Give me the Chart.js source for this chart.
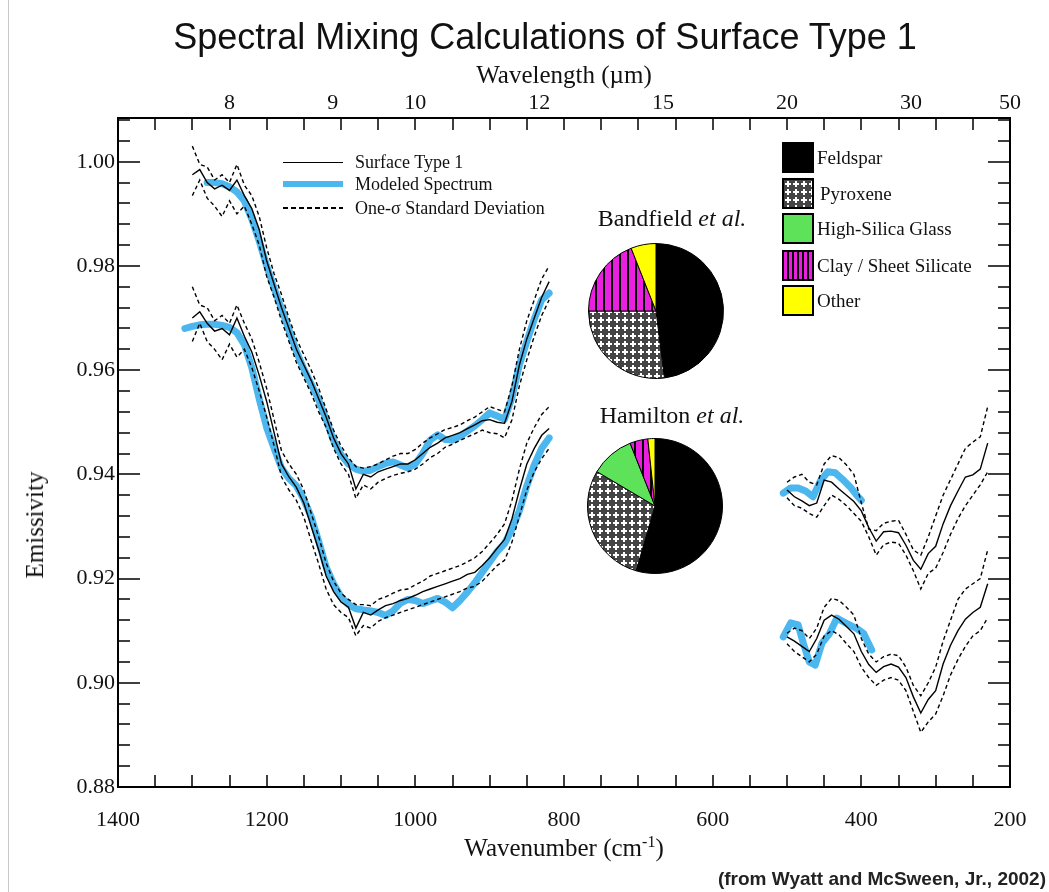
<!DOCTYPE html>
<html><head><meta charset="utf-8">
<script src="https://cdn.jsdelivr.net/npm/chart.js@4.4.1/dist/chart.umd.min.js"></script>
<style>
body{margin:0;background:#fff;}
#wrap{position:relative;width:1049px;height:892px;overflow:hidden;font-family:"Liberation Serif","Times New Roman",serif;color:#111;background:#fff;}
#main{position:absolute;left:0;top:0;}
.abs{position:absolute;white-space:nowrap;}
#title{left:0;width:1090px;top:17px;text-align:center;font-family:"Liberation Sans",Arial,sans-serif;font-size:36px;line-height:40px;color:#111;}
#xtitle{left:364px;width:400px;top:833px;text-align:center;font-size:25px;line-height:30px;}
#xtitle sup{font-size:16px;vertical-align:9px;line-height:0;}
#ytitle{left:35px;top:525px;transform:translate(-50%,-50%) rotate(-90deg);font-size:25px;line-height:30px;}
#foot{right:3px;top:868px;font-family:"Liberation Sans",Arial,sans-serif;font-weight:bold;font-size:19px;line-height:22px;color:#222;}
#edge{left:8px;top:0;width:1px;height:892px;background:#c8c8c8;}
.lg{font-size:18px;line-height:20px;left:355px;}
.pt{left:572px;width:200px;text-align:center;font-size:24px;line-height:28px;}
.sw{position:absolute;left:782px;width:28px;height:27px;border:2px solid #000;}
.sl{position:absolute;left:817px;font-size:19px;line-height:22px;white-space:nowrap;}
.pie{position:absolute;}
</style></head>
<body>
<div id="wrap">
<canvas id="main" width="1049" height="892"></canvas>
<div id="edge" class="abs"></div>
<div id="title" class="abs">Spectral Mixing Calculations of Surface Type 1</div>
<div id="xtitle" class="abs">Wavenumber (cm<sup>-1</sup>)</div>
<div id="ytitle" class="abs">Emissivity</div>
<div id="foot" class="abs">(from Wyatt and McSween, Jr., 2002)</div>

<div class="abs" style="left:283px;top:162px;width:60px;height:0;border-top:1.5px solid #000;"></div>
<div class="abs" style="left:283px;top:181px;width:60px;height:6px;background:#4cb6ee;"></div>
<div class="abs" style="left:283px;top:207px;width:60px;height:1.5px;background:repeating-linear-gradient(to right,#000 0 5px,transparent 5px 8px);"></div>
<div class="abs lg" style="top:152px;">Surface Type 1</div>
<div class="abs lg" style="top:174px;">Modeled Spectrum</div>
<div class="abs lg" style="top:198px;">One-σ Standard Deviation</div>

<div class="abs pt" style="top:204px;">Bandfield <i>et al.</i></div>
<div class="abs pt" style="top:401px;">Hamilton <i>et al.</i></div>
<canvas id="pieB" class="pie" width="150" height="150" style="left:581px;top:236px;"></canvas>
<canvas id="pieH" class="pie" width="150" height="150" style="left:580px;top:431px;"></canvas>
<div id="pieLegend"></div>
</div>
<script>
// ---------------- DATA ----------------
const xTickValues = [1400, 1200, 1000, 800, 600, 400, 200];
const yTickValues = [0.88, 0.90, 0.92, 0.94, 0.96, 0.98, 1.00];
const wavelengthTicks = [8, 9, 10, 12, 15, 20, 30, 50];

// Band 1 (1300-820 cm-1)
const wnBand1 = [1300,1290,1280,1270,1260,1250,1240,1230,1220,1210,1200,1190,1180,1170,1160,1150,1140,1130,1120,1110,1100,1090,1080,1070,1060,1050,1040,1030,1020,1010,1000,990,980,970,960,950,940,930,920,910,900,890,880,870,860,850,840,830,820];
const upperMeasured = [0.9975,0.9985,0.9960,0.9948,0.9955,0.9945,0.9965,0.9935,0.9910,0.9870,0.9810,0.9765,0.9720,0.9680,0.9640,0.9610,0.9580,0.9545,0.9510,0.9470,0.9440,0.9420,0.9372,0.9400,0.9395,0.9405,0.9410,0.9415,0.9420,0.9420,0.9428,0.9440,0.9452,0.9460,0.9470,0.9475,0.9480,0.9488,0.9495,0.9503,0.9505,0.9500,0.9498,0.9540,0.9610,0.9660,0.9700,0.9740,0.9770];
const upperSigmaHi = [1.0030,0.9995,0.9990,0.9965,0.9975,0.9960,0.9995,0.9955,0.9935,0.9895,0.9835,0.9785,0.9745,0.9700,0.9660,0.9630,0.9600,0.9565,0.9525,0.9485,0.9455,0.9432,0.9415,0.9412,0.9415,0.9420,0.9428,0.9435,0.9440,0.9440,0.9448,0.9460,0.9470,0.9478,0.9486,0.9490,0.9495,0.9503,0.9510,0.9520,0.9530,0.9525,0.9520,0.9570,0.9640,0.9695,0.9735,0.9775,0.9800];
const upperSigmaLo = [0.9935,0.9965,0.9930,0.9915,0.9895,0.9925,0.9900,0.9915,0.9880,0.9840,0.9780,0.9740,0.9695,0.9655,0.9615,0.9585,0.9555,0.9520,0.9490,0.9450,0.9420,0.9400,0.9354,0.9380,0.9372,0.9385,0.9392,0.9398,0.9402,0.9405,0.9410,0.9420,0.9432,0.9440,0.9452,0.9458,0.9465,0.9472,0.9478,0.9485,0.9480,0.9478,0.9470,0.9505,0.9570,0.9620,0.9665,0.9705,0.9735];
const lowerMeasured = [0.9700,0.9712,0.9690,0.9675,0.9680,0.9668,0.9700,0.9665,0.9635,0.9590,0.9540,0.9480,0.9420,0.9395,0.9375,0.9345,0.9300,0.9255,0.9205,0.9175,0.9155,0.9145,0.9105,0.9135,0.9130,0.9140,0.9148,0.9152,0.9158,0.9162,0.9168,0.9175,0.9180,0.9185,0.9190,0.9195,0.9200,0.9208,0.9212,0.9225,0.9240,0.9258,0.9275,0.9315,0.9370,0.9420,0.9450,0.9475,0.9488];
const lowerSigmaHi = [0.9760,0.9725,0.9720,0.9695,0.9705,0.9690,0.9725,0.9690,0.9660,0.9615,0.9565,0.9505,0.9445,0.9420,0.9400,0.9370,0.9325,0.9280,0.9230,0.9195,0.9172,0.9160,0.9150,0.9150,0.9148,0.9160,0.9165,0.9172,0.9178,0.9180,0.9188,0.9195,0.9205,0.9210,0.9215,0.9220,0.9225,0.9232,0.9240,0.9252,0.9268,0.9285,0.9305,0.9350,0.9410,0.9460,0.9490,0.9515,0.9530];
const lowerSigmaLo = [0.9655,0.9690,0.9655,0.9640,0.9620,0.9650,0.9625,0.9640,0.9605,0.9560,0.9510,0.9455,0.9395,0.9370,0.9350,0.9318,0.9272,0.9228,0.9180,0.9150,0.9135,0.9125,0.9090,0.9110,0.9105,0.9118,0.9125,0.9130,0.9135,0.9140,0.9145,0.9150,0.9155,0.9160,0.9165,0.9170,0.9175,0.9182,0.9185,0.9195,0.9210,0.9225,0.9235,0.9270,0.9320,0.9370,0.9405,0.9430,0.9450];
const wnModelUpper1 = [1280,1270,1260,1250,1240,1230,1220,1210,1200,1190,1180,1170,1160,1150,1140,1130,1120,1110,1100,1090,1080,1070,1060,1050,1040,1030,1020,1010,1000,990,980,970,960,950,940,930,920,910,900,890,880,870,860,850,840,830,820];
const upperModeled = [0.9960,0.9960,0.9958,0.9952,0.9942,0.9925,0.9890,0.9848,0.9800,0.9757,0.9718,0.9677,0.9636,0.9602,0.9573,0.9543,0.9505,0.9465,0.9438,0.9420,0.9410,0.9406,0.9408,0.9415,0.9421,0.9424,0.9418,0.9412,0.9420,0.9440,0.9466,0.9476,0.9467,0.9466,0.9473,0.9483,0.9493,0.9505,0.9518,0.9512,0.9506,0.9548,0.9610,0.9655,0.9698,0.9735,0.9748];
const wnModelLower1 = [1310,1300,1290,1280,1270,1260,1250,1240,1230,1220,1210,1200,1190,1180,1170,1160,1150,1140,1130,1120,1110,1100,1090,1080,1070,1060,1050,1040,1030,1020,1010,1000,990,980,970,960,950,940,930,920,910,900,890,880,870,860,850,840,830,820];
const lowerModeled = [0.9680,0.9684,0.9687,0.9688,0.9688,0.9686,0.9682,0.9672,0.9649,0.9605,0.9545,0.9490,0.9450,0.9412,0.9392,0.9378,0.9352,0.9318,0.9271,0.9222,0.9190,0.9165,0.9150,0.9142,0.9140,0.9138,0.9135,0.9129,0.9138,0.9153,0.9160,0.9158,0.9152,0.9157,0.9162,0.9155,0.9144,0.9158,0.9174,0.9192,0.9212,0.9232,0.9252,0.9267,0.9295,0.9330,0.9378,0.9418,0.9450,0.9470];

// Band 2 (500-230 cm-1)
const wnBand2 = [500,490,480,470,460,450,440,430,420,410,400,390,380,370,360,350,340,330,320,310,300,290,280,270,260,250,240,230];
const upperMeasured2 = [0.9370,0.9357,0.9349,0.9340,0.9345,0.9389,0.9385,0.9372,0.9360,0.9348,0.9330,0.9298,0.9272,0.9290,0.9291,0.9288,0.9264,0.9235,0.9218,0.9248,0.9262,0.9305,0.9340,0.9368,0.9395,0.9399,0.9410,0.9460];
const upperSigmaHi2 = [0.9385,0.9395,0.9400,0.9385,0.9380,0.9420,0.9436,0.9432,0.9418,0.9400,0.9345,0.9295,0.9292,0.9306,0.9310,0.9312,0.9285,0.9255,0.9245,0.9280,0.9320,0.9360,0.9390,0.9420,0.9450,0.9462,0.9472,0.9530];
const upperSigmaLo2 = [0.9355,0.9340,0.9335,0.9325,0.9318,0.9340,0.9360,0.9352,0.9340,0.9325,0.9310,0.9280,0.9245,0.9265,0.9270,0.9268,0.9245,0.9215,0.9180,0.9210,0.9220,0.9250,0.9285,0.9315,0.9340,0.9360,0.9380,0.9405];
const lowerMeasured2 = [0.9088,0.9080,0.9070,0.9060,0.9085,0.9120,0.9130,0.9122,0.9108,0.9094,0.9060,0.9035,0.9020,0.9031,0.9036,0.9030,0.9010,0.8973,0.8942,0.8968,0.8985,0.9036,0.9072,0.9100,0.9122,0.9135,0.9145,0.9190];
const lowerSigmaHi2 = [0.9095,0.9105,0.9100,0.9085,0.9105,0.9145,0.9162,0.9158,0.9145,0.9130,0.9085,0.9055,0.9040,0.9050,0.9055,0.9052,0.9030,0.8995,0.8975,0.9000,0.9030,0.9080,0.9120,0.9160,0.9180,0.9190,0.9200,0.9255];
const lowerSigmaLo2 = [0.9075,0.9060,0.9050,0.9040,0.9055,0.9090,0.9100,0.9092,0.9075,0.9060,0.9030,0.9010,0.8995,0.9005,0.9010,0.9005,0.8985,0.8945,0.8905,0.8925,0.8940,0.8975,0.9015,0.9045,0.9070,0.9090,0.9100,0.9125];
const wnModelUpper2 = [505,495,485,475,465,455,445,435,425,415,405,400];
const upperModeled2 = [0.9364,0.9374,0.9374,0.9368,0.9357,0.9388,0.9405,0.9403,0.9390,0.9376,0.9358,0.9350];
const wnModelLower2 = [505,495,485,478,470,462,453,443,433,420,406,397,386];
const lowerModeled2 = [0.9088,0.9115,0.9111,0.9076,0.9040,0.9034,0.9076,0.9094,0.9124,0.9114,0.9104,0.9095,0.9063];

// Pie charts (percent)
const mineralNames = ['Feldspar', 'Pyroxene', 'High-Silica Glass', 'Clay / Sheet Silicate', 'Other'];
const bandfieldPct = [48, 27, 0, 19, 6];
const hamiltonPct = [54.5, 29, 10.5, 4.3, 1.7];

// ---------------- DRAWING ----------------
const SERIF = '"Liberation Serif","Times New Roman",serif';
const BLUE = '#4cb6ee';
const GREEN = '#5ee25a';
const MAGENTA = '#ec1fe0';
const YELLOW = '#ffff00';

function xy(xs, ys) { return xs.map((x, i) => ({x: x, y: ys[i]})); }
function measured(xs, ys) { return {data: xy(xs, ys), showLine: true, pointRadius: 0, borderColor: '#000', borderWidth: 1.4, order: 1}; }
function sigma(xs, ys) { return {data: xy(xs, ys), showLine: true, pointRadius: 0, borderColor: '#000', borderWidth: 1.4, borderDash: [4, 3], order: 2}; }
function modeled(xs, ys) { return {data: xy(xs, ys), showLine: true, pointRadius: 0, borderColor: BLUE, borderWidth: 7, borderCapStyle: 'round', borderJoinStyle: 'round', order: 3}; }

const datasets = [
  modeled(wnModelUpper1, upperModeled), modeled(wnModelLower1, lowerModeled),
  modeled(wnModelUpper2, upperModeled2), modeled(wnModelLower2, lowerModeled2),
  sigma(wnBand1, upperSigmaHi), sigma(wnBand1, upperSigmaLo),
  sigma(wnBand1, lowerSigmaHi), sigma(wnBand1, lowerSigmaLo),
  sigma(wnBand2, upperSigmaHi2), sigma(wnBand2, upperSigmaLo2),
  sigma(wnBand2, lowerSigmaHi2), sigma(wnBand2, lowerSigmaLo2),
  measured(wnBand1, upperMeasured), measured(wnBand1, lowerMeasured),
  measured(wnBand2, upperMeasured2), measured(wnBand2, lowerMeasured2)
];

const framePlugin = {
  id: 'frame',
  afterDatasetsDraw(chart) {
    const {ctx, chartArea: a} = chart;
    const xs = chart.scales.x, ys = chart.scales.y;
    ctx.save();
    ctx.strokeStyle = '#000';
    ctx.lineWidth = 1.5;
    ctx.beginPath();
    for (let v = xs.min; v <= xs.max + 0.01; v += 50) {
      const p = Math.round(xs.getPixelForValue(v));
      ctx.moveTo(p, a.bottom); ctx.lineTo(p, a.bottom - 12);
      ctx.moveTo(p, a.top); ctx.lineTo(p, a.top + 12);
    }
    for (let k = 0; ; k++) {
      const v = ys.min + k * 0.004;
      if (v > ys.max) break;
      const p = Math.round(ys.getPixelForValue(v));
      const len = (k % 5 === 0) ? 22 : 12;
      ctx.moveTo(a.left, p); ctx.lineTo(a.left + len, p);
      ctx.moveTo(a.right, p); ctx.lineTo(a.right - len, p);
    }
    ctx.stroke();
    ctx.lineWidth = 2;
    ctx.strokeRect(a.left, a.top, a.right - a.left, a.bottom - a.top);
    ctx.restore();
  }
};

const tickFont = {family: SERIF, size: 22};
new Chart(document.getElementById('main'), {
  type: 'scatter',
  data: {datasets: datasets},
  options: {
    responsive: false, animation: false, devicePixelRatio: 1,
    layout: {padding: 0},
    plugins: {legend: {display: false}, tooltip: {enabled: false}},
    scales: {
      x: {
        type: 'linear', position: 'bottom', min: 200, max: 1400, reverse: true,
        afterBuildTicks: s => { s.ticks = xTickValues.map(v => ({value: v})); },
        ticks: {callback: v => String(v), font: tickFont, color: '#111', padding: 20, autoSkip: false, maxRotation: 0},
        grid: {display: false, drawTicks: false}, border: {display: false},
        afterFit: s => { s.height = 105; }
      },
      xTop: {
        type: 'linear', position: 'top', min: 200, max: 1400, reverse: true,
        afterBuildTicks: s => { s.ticks = wavelengthTicks.map(l => ({value: 10000 / l})); },
        ticks: {callback: (v, i) => String(wavelengthTicks[i]), font: tickFont, color: '#111', padding: 2, autoSkip: false, maxRotation: 0},
        title: {display: true, text: 'Wavelength (µm)', font: {family: SERIF, size: 25}, color: '#111', padding: {top: 61, bottom: 0}},
        grid: {display: false, drawTicks: false}, border: {display: false},
        afterFit: s => { s.height = 118; }
      },
      y: {
        type: 'linear', position: 'left', min: 0.88, max: 1.0084,
        afterBuildTicks: s => { s.ticks = yTickValues.map(v => ({value: v})); },
        ticks: {callback: v => v.toFixed(2), font: tickFont, color: '#111', padding: 3},
        grid: {display: false, drawTicks: false}, border: {display: false},
        afterFit: s => { s.width = 118; }
      },
      yRight: {
        type: 'linear', position: 'right', min: 0.88, max: 1.0084,
        ticks: {display: false}, grid: {display: false, drawTicks: false}, border: {display: false},
        afterFit: s => { s.width = 39; }
      }
    }
  },
  plugins: [framePlugin]
});

// patterns
function pyroxenePattern(ctx) {
  const c = document.createElement('canvas'); c.width = 8; c.height = 8;
  const g = c.getContext('2d');
  g.fillStyle = '#444'; g.fillRect(0, 0, 8, 8);
  g.fillStyle = '#fff'; g.fillRect(1, 3, 6, 2); g.fillRect(3, 1, 2, 6);
  return ctx.createPattern(c, 'repeat');
}
function clayPattern(ctx, period) {
  const c = document.createElement('canvas'); c.width = period; c.height = 4;
  const g = c.getContext('2d');
  g.fillStyle = MAGENTA; g.fillRect(0, 0, period, 4);
  g.fillStyle = '#000'; g.fillRect(period - 2, 0, 2, 4);
  return ctx.createPattern(c, 'repeat');
}
function fills(ctx, period) { return ['#000', pyroxenePattern(ctx), GREEN, clayPattern(ctx, period), YELLOW]; }

function pie(id, values) {
  const cv = document.getElementById(id);
  const ctx = cv.getContext('2d');
  new Chart(cv, {
    type: 'pie',
    data: {labels: mineralNames, datasets: [{data: values, backgroundColor: fills(ctx, 8), borderColor: '#000', borderWidth: 1}]},
    options: {responsive: false, animation: false, devicePixelRatio: 1, radius: 67.5, layout: {padding: 0},
      plugins: {legend: {display: false}, tooltip: {enabled: false}}}
  });
}
pie('pieB', bandfieldPct);
pie('pieH', hamiltonPct);

// pie legend
const swTops = [142, 178, 213, 250, 285];
const legendBox = document.getElementById('pieLegend');
mineralNames.forEach((name, i) => {
  const sw = document.createElement('canvas');
  sw.className = 'sw'; sw.width = 28; sw.height = 27;
  sw.style.top = swTops[i] + 'px';
  const g = sw.getContext('2d');
  g.fillStyle = fills(g, 5)[i]; g.fillRect(0, 0, 28, 27);
  legendBox.appendChild(sw);
  const lb = document.createElement('div');
  lb.className = 'sl'; lb.textContent = name;
  lb.style.top = (swTops[i] + 5) + 'px';
  if (i === 1) lb.style.left = '820px';
  legendBox.appendChild(lb);
});
</script>
</body></html>
